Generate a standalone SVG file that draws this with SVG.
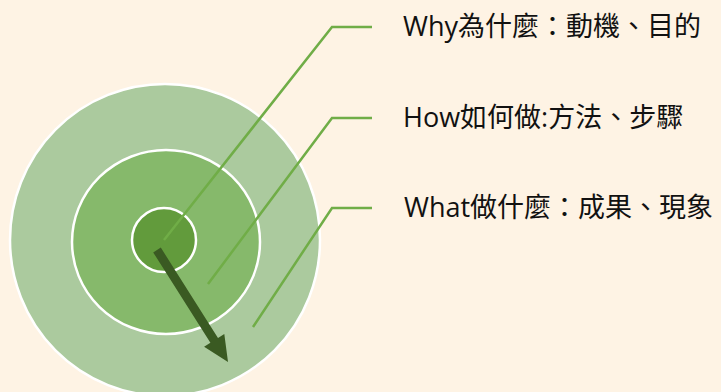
<svg xmlns="http://www.w3.org/2000/svg" width="721" height="392" viewBox="0 0 721 392">
<style>
.ring{stroke:#FFFFFF;stroke-width:2.5}
.lead{fill:none;stroke:#70AD47;stroke-width:2.5}
.lbl{font-family:"Open Sans","Noto Sans CJK TC",sans-serif;font-size:27px;fill:#111111}
</style>
<rect width="721" height="392" fill="#FEF3E4"/>
<g id="what-ring"><ellipse class="ring" cx="165" cy="240" rx="155" ry="156" fill="#ABCA9E"/></g>
<g id="how-ring"><ellipse class="ring" cx="166" cy="242" rx="94" ry="92" fill="#86B96B"/></g>
<g id="why-ring"><circle class="ring" cx="164" cy="240" r="32" fill="#629B3C"/></g>
<g id="connectors">
<polyline class="lead" points="164,240 332,27 372,27"/>
<polyline class="lead" points="208,284 332,118 372,118"/>
<polyline class="lead" points="253,327 332,208 372,208"/>
<polygon points="160.8,247.6 218.0,338.0 224.3,334.0 228,362 204.1,346.8 210.4,342.8 153.2,252.4" fill="#3A5A22"/>
</g>
<g id="why-label"><text class="lbl" x="403" y="36">Why為什麼：動機、目的</text></g>
<g id="how-label"><text class="lbl" x="403" y="127">How如何做:方法、步驟</text></g>
<g id="what-label"><text class="lbl" x="404" y="217">What做什麼：成果、現象</text></g>
</svg>
